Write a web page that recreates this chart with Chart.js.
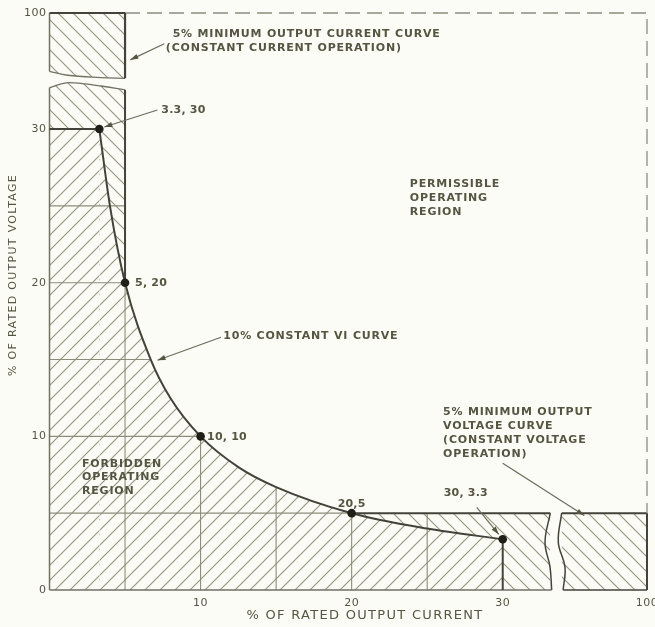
<!DOCTYPE html>
<html lang="en">
<head>
<meta charset="UTF-8">
<title>Operating region of a regulated supply</title>
<style>
  html, body { margin: 0; padding: 0; background: #fcfcf7; }
  .wrap { position: relative; width: 655px; height: 627px; }
</style>
</head>
<body>
<div class="wrap"><canvas id="chart"></canvas></div>
<script src="https://cdn.jsdelivr.net/npm/chart.js"></script>
<script>
// 10% constant VI curve (% current, % voltage)
const curveCurrent = [3.3, 4, 5, 6.7, 8, 10, 12.5, 15, 20, 25, 30];
const curveVoltage = [30, 25, 20, 15, 12.5, 10, 8, 6.7, 5, 4, 3.3];

// labelled points on the curve
const markCurrent = [3.3, 5, 10, 20, 30];
const markVoltage = [30, 20, 10, 5, 3.3];
const markText = ['3.3, 30', '5, 20', '10, 10', '20,5', '30, 3.3'];

// 5% minimum output lines
const minCurrent = 5;
const minVoltage = 5;

// grid lines inside the forbidden region and where they stop
const gridCurrent = [10, 15, 20, 25];
const gridCurrentTop = [10, 6.7, 5, 5];
const gridVoltage = [10, 15, 20, 25];
const gridVoltageEnd = [10, 6.7, 5, 5];

// broken axes: the "100" end sits just past the break
const xTicks = [10, 20, 30, 39.55];
const xTickText = ['10', '20', '30', '100'];
const yTicks = [0, 10, 20, 30, 37.55];
const yTickText = ['0', '10', '20', '30', '100'];
const xBreak = [33.15, 33.9];

const PAPER = '#fcfcf7';
const DARK = '#43433a';
const MID = '#717164';
const LIGHT = '#8c8c7a';
const TEXT = '#56564280';
const FONT = '"DejaVu Sans", sans-serif';
const xMax = xTicks[xTicks.length - 1];
const yMax = yTicks[yTicks.length - 1];

function hatch(dir) {
    const s = 15;
    const c = document.createElement('canvas');
    c.width = c.height = s;
    const g = c.getContext('2d');
    g.fillStyle = PAPER;
    g.fillRect(0, 0, s, s);
    g.strokeStyle = '#979785';
    g.lineWidth = 1.2;
    g.beginPath();
    if (dir > 0) {
        g.moveTo(0, s); g.lineTo(s, 0);
        g.moveTo(-2, 2); g.lineTo(2, -2);
        g.moveTo(s - 2, s + 2); g.lineTo(s + 2, s - 2);
    } else {
        g.moveTo(0, 0); g.lineTo(s, s);
        g.moveTo(-2, s - 2); g.lineTo(2, s + 2);
        g.moveTo(s - 2, -2); g.lineTo(s + 2, 2);
    }
    g.stroke();
    return g.createPattern(c, 'repeat');
}
const forward = hatch(1);
const backward = hatch(-1);

function seg(points, opts) {
    return Object.assign({
        type: 'line', data: points, pointRadius: 0, borderWidth: 1.1,
        borderColor: LIGHT, fill: false, tension: 0, clip: false, order: 10
    }, opts);
}
const curvePts = curveCurrent.map((x, i) => ({ x: x, y: curveVoltage[i] }));
const v0 = curveVoltage[0], c0 = curveCurrent[0];
const cEnd = curveCurrent[curveCurrent.length - 1], vEnd = curveVoltage[curveVoltage.length - 1];

const datasets = [
    // 5% strips ("\" hatch)
    seg([{x: 0, y: 32.7}, {x: 1.1, y: 33.0}, {x: 2.2, y: 32.95}, {x: 3.4, y: 32.8}, {x: minCurrent, y: 32.55}],
        { fill: 'origin', backgroundColor: backward, borderColor: MID, borderWidth: 1.3, tension: 0.4, order: 20 }),
    seg([{x: 0, y: 33.75}, {x: 1.2, y: 33.5}, {x: 3.4, y: 33.35}, {x: minCurrent, y: 33.3}],
        { fill: { value: yMax }, backgroundColor: backward, borderColor: MID, borderWidth: 1.3, tension: 0.4, order: 20 }),
    seg([{x: 0, y: minVoltage}, {x: xBreak[0], y: minVoltage}],
        { fill: 'origin', backgroundColor: backward, borderWidth: 0, order: 20 }),
    seg([{x: xBreak[1], y: minVoltage}, {x: xMax, y: minVoltage}],
        { fill: 'origin', backgroundColor: backward, borderColor: DARK, borderWidth: 2, order: 20 }),

    // forbidden region ("/" hatch)
    seg([{x: 0, y: v0}, {x: c0, y: v0}],
        { fill: 'origin', backgroundColor: forward, borderWidth: 0, order: 15 }),
    seg(curvePts,
        { fill: 'origin', backgroundColor: forward, borderWidth: 0, cubicInterpolationMode: 'monotone', order: 15 }),

    // grid inside the forbidden region
    ...gridCurrent.map((x, i) => seg([{x: x, y: 0}, {x: x, y: gridCurrentTop[i]}])),
    ...gridVoltage.map((y, i) => seg([{x: 0, y: y}, {x: gridVoltageEnd[i], y: y}])),
    seg([{x: minCurrent, y: 0}, {x: minCurrent, y: 20}]),
    seg([{x: 0, y: minVoltage}, {x: 20, y: minVoltage}]),

    // boundaries
    seg([{x: minCurrent, y: 20}, {x: minCurrent, y: 32.55}], { borderColor: DARK, borderWidth: 2, order: 5 }),
    seg([{x: 20, y: minVoltage}, {x: xBreak[0], y: minVoltage}], { borderColor: DARK, borderWidth: 2, order: 5 }),
    seg([{x: 0, y: v0}, {x: c0, y: v0}], { borderColor: DARK, borderWidth: 2, order: 5 }),
    seg([{x: cEnd, y: 0}, {x: cEnd, y: vEnd}], { borderColor: DARK, borderWidth: 2, order: 5 }),
    seg([{x: 0, y: 0}, {x: 0, y: 32.7}], { borderColor: MID, borderWidth: 1.5, order: 5 }),
    seg([{x: 0, y: 0}, {x: 33.24, y: 0}], { borderColor: MID, borderWidth: 1.5, order: 5 }),
    seg([{x: xBreak[0], y: minVoltage}, {x: 32.8, y: 3.1}, {x: 33.13, y: 1.5}, {x: 33.24, y: 0}],
        { borderColor: DARK, borderWidth: 1.5, tension: 0.4, order: 5 }),
    seg([{x: xBreak[1], y: minVoltage}, {x: 33.68, y: 3.1}, {x: 34.12, y: 1.5}, {x: 34.0, y: 0}],
        { borderColor: DARK, borderWidth: 1.5, tension: 0.4, order: 5 }),
    seg([{x: 34.0, y: 0}, {x: xMax, y: 0}], { borderColor: DARK, borderWidth: 1.5, order: 5 }),
    seg([{x: xMax, y: 0}, {x: xMax, y: minVoltage}], { borderColor: DARK, borderWidth: 2, order: 5 }),
    seg([{x: 0, y: yMax}, {x: minCurrent, y: yMax}], { borderColor: DARK, borderWidth: 2.2, order: 5 }),
    seg([{x: minCurrent, y: 33.3}, {x: minCurrent, y: yMax}], { borderColor: DARK, borderWidth: 2.2, order: 5 }),
    seg([{x: 0, y: 33.75}, {x: 0, y: yMax}], { borderColor: MID, borderWidth: 1.5, order: 5 }),

    // permissible region limit (dashed)
    seg([{x: minCurrent, y: yMax}, {x: xMax, y: yMax}, {x: xMax, y: minVoltage}],
        { borderColor: '#8c8c7c', borderWidth: 1.3, borderDash: [15, 7], order: 5 }),

    // the 10% constant VI curve
    seg(curvePts, { borderColor: DARK, borderWidth: 2, cubicInterpolationMode: 'monotone', order: 1 }),

    // labelled points
    {
        type: 'scatter', data: markCurrent.map((x, i) => ({ x: x, y: markVoltage[i] })),
        pointRadius: 4.3, pointBackgroundColor: '#1f1f18', pointBorderWidth: 0, clip: false, order: 0
    }
];

const paperPlugin = {
    id: 'paper',
    beforeDraw(chart) {
        const ctx = chart.ctx;
        ctx.save();
        ctx.fillStyle = PAPER;
        ctx.fillRect(0, 0, chart.width, chart.height);
        ctx.restore();
        ctx.letterSpacing = '0.5px';
    }
};

function arrow(ctx, x1, y1, x2, y2) {
    ctx.beginPath(); ctx.moveTo(x1, y1); ctx.lineTo(x2, y2); ctx.stroke();
    const a = Math.atan2(y2 - y1, x2 - x1), L = 8, W = 2.6;
    ctx.beginPath();
    ctx.moveTo(x2, y2);
    ctx.lineTo(x2 - L * Math.cos(a) + W * Math.sin(a), y2 - L * Math.sin(a) - W * Math.cos(a));
    ctx.lineTo(x2 - L * Math.cos(a) - W * Math.sin(a), y2 - L * Math.sin(a) + W * Math.cos(a));
    ctx.closePath(); ctx.fill();
}

const notesPlugin = {
    id: 'notes',
    afterDraw(chart) {
        const ctx = chart.ctx, sx = chart.scales.x, sy = chart.scales.y;
        const X = v => sx.getPixelForValue(v), Y = v => sy.getPixelForValue(v);
        ctx.save();
        ctx.fillStyle = '#555542';
        ctx.strokeStyle = '#6c6c5a';
        ctx.lineWidth = 1.2;
        ctx.textBaseline = 'middle';

        function block(lines, x, y, step, font, spacing) {
            ctx.font = font;
            ctx.letterSpacing = spacing;
            ctx.textAlign = 'left';
            lines.forEach((t, i) => ctx.fillText(t, X(x), Y(y) + i * step));
        }
        const note = 'bold 11px ' + FONT;
        block(['5% MINIMUM OUTPUT CURRENT CURVE'], 8.15, 36.15, 0, note, '0.8px');
        block(['(CONSTANT CURRENT OPERATION)'], 7.7, 35.25, 0, note, '0.8px');
        arrow(ctx, X(7.6), Y(35.55), X(5.35), Y(34.5));

        block(['10% CONSTANT VI CURVE'], 11.5, 16.5, 0, note, '0.8px');
        arrow(ctx, X(11.35), Y(16.45), X(7.15), Y(14.95));

        block(['FORBIDDEN', 'OPERATING', 'REGION'], 2.15, 8.2, 13.5, note, '0.8px');
        block(['PERMISSIBLE', 'OPERATING', 'REGION'], 23.85, 26.4, 14, note, '0.8px');
        block(['5% MINIMUM OUTPUT', 'VOLTAGE CURVE', '(CONSTANT VOLTAGE', 'OPERATION)'], 26.05, 11.55, 13.8, note, '0.8px');
        arrow(ctx, X(30.0), Y(8.25), X(35.4), Y(4.85));

        // point labels, offsets in pixels from each point
        const off = [[62, -19], [10, 0], [6.5, 0.5], [-14, -9.5], [-59, -46]];
        ctx.font = 'bold 11px ' + FONT;
        ctx.letterSpacing = '0.2px';
        markText.forEach((t, i) => {
            ctx.fillText(t, X(markCurrent[i]) + off[i][0], Y(markVoltage[i]) + off[i][1]);
        });
        arrow(ctx, X(markCurrent[0]) + 58, Y(markVoltage[0]) - 19, X(markCurrent[0]) + 5, Y(markVoltage[0]) - 2);
        arrow(ctx, X(markCurrent[4]) - 26, Y(markVoltage[4]) - 32, X(markCurrent[4]) - 4, Y(markVoltage[4]) - 5);

        // axis titles
        ctx.font = '13px ' + FONT;
        ctx.letterSpacing = '1.3px';
        ctx.textAlign = 'center';
        ctx.fillText('% OF RATED OUTPUT CURRENT', 365, 616);
        ctx.save();
        ctx.translate(13, 275);
        ctx.rotate(-Math.PI / 2);
        ctx.font = '11px ' + FONT;
        ctx.fillText('% OF RATED OUTPUT VOLTAGE', 0, 0);
        ctx.restore();
        ctx.restore();
    }
};

new Chart(document.getElementById('chart'), {
    type: 'line',
    data: { datasets: datasets },
    options: {
        responsive: true,
        maintainAspectRatio: false,
        animation: false,
        events: [],
        layout: { padding: { top: 13, right: 8, bottom: 0, left: 0 } },
        plugins: { legend: { display: false }, tooltip: { enabled: false } },
        scales: {
            x: {
                type: 'linear', min: 0, max: xMax,
                afterBuildTicks: s => { s.ticks = xTicks.map(v => ({ value: v })); },
                afterFit: s => { s.height = 37; s.paddingLeft = 0; s.paddingRight = 0; },
                ticks: {
                    autoSkip: false, maxRotation: 0, padding: 7, color: '#555542',
                    font: { family: FONT, size: 11 },
                    callback: (v, i) => xTickText[i]
                },
                grid: { display: false, drawTicks: false },
                border: { display: false }
            },
            y: {
                type: 'linear', min: 0, max: yMax,
                afterBuildTicks: s => { s.ticks = yTicks.map(v => ({ value: v })); },
                afterFit: s => { s.width = 49.5; s.paddingTop = 0; s.paddingBottom = 0; },
                ticks: {
                    autoSkip: false, padding: 3, color: '#555542',
                    font: { family: FONT, size: 11 },
                    callback: (v, i) => yTickText[i]
                },
                grid: { display: false, drawTicks: false },
                border: { display: false }
            }
        }
    },
    plugins: [paperPlugin, notesPlugin]
});
</script>
</body>
</html>
